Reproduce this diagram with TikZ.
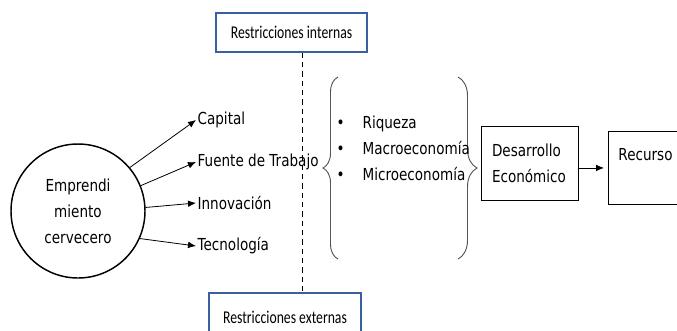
\documentclass[tikz,border=0pt]{standalone}
\usepackage{fontspec}
\setmainfont{DejaVu Sans}[FakeStretch=0.82]
\newfontfamily\restfont{Carlito}[FakeStretch=0.76]
\usetikzlibrary{arrows.meta,decorations.pathreplacing}
\definecolor{restblue}{HTML}{3B5FA3}
\definecolor{bracegray}{HTML}{555555}

\begin{document}
\begin{tikzpicture}[x=0.75pt,y=-0.75pt,
        every node/.style={font=\fontsize{12.4}{19.6}\selectfont},
        idea/.style={anchor=west,inner sep=1pt},
        rest/.style={draw=restblue,line width=1.1pt,font=\restfont\fontsize{13.5}{15}\selectfont},
        caja/.style={draw,line width=0.65pt,align=left},
        flecha/.style={-{Latex[length=6pt,width=5pt]},line width=0.6pt},
        llave/.style={decorate,draw=bracegray,line width=0.7pt}]
    \useasboundingbox (0,0) rectangle (677,330);
    \clip (0,0) rectangle (677,330);
    % emprendimiento y sus aportes
    \node[circle,draw,line width=1.1pt,minimum size=100.5pt,align=center] (emp) at (78,211)
        {Emprendi\\miento\\cervecero};
    \node[idea] (cap) at (196,120) {Capital};
    \node[idea] (fue) at (196,162) {Fuente de Trabajo};
    \node[idea] (inn) at (196,203) {Innovación};
    \node[idea] (tec) at (196,246) {Tecnología};
    \draw[flecha] (emp.40) -- (cap.west);
    \draw[flecha] (emp.22) -- (fue.west);
    \draw[flecha] (emp.3) -- (inn.west);
    \draw[flecha] (emp.-24) -- (tec.west);
    % restricciones
    \node[rest,minimum width=113.25pt,minimum height=29.25pt] (rin) at (291.5,32.5) {Restricciones internas};
    \node[rest,minimum width=114pt,minimum height=36pt] (rex) at (285,317) {Restricciones externas};
    \coordinate (sep) at (302,0);
    \draw[dash pattern=on 4pt off 3pt,line width=0.6pt] (rin.south -| sep) -- (rex.north -| sep);
    % efectos
    \draw[llave,decoration={brace,amplitude=11.25pt}] (338,259) -- (338,77);
    \draw[llave,decoration={brace,amplitude=14.25pt}] (458,77) -- (458,259);
    \node[anchor=west,inner sep=1pt,align=left] (efe) at (335,148.5)
        {•\hspace{13.5pt}Riqueza\\•\hspace{13.5pt}Macroeconomía\\•\hspace{13.5pt}Microeconomía};
    \node[caja,minimum width=72.75pt,minimum height=55.5pt,text width=56.25pt,inner xsep=8.25pt] (des) at (529.5,163)
        {Desarrollo\\Económico};
    \node[caja,anchor=north west,minimum width=82.5pt,minimum height=54.75pt,text width=67.5pt,inner xsep=7.5pt] (rec) at (608,131)
        {Recurso\\\mbox{}};
    \draw[flecha,shorten >=3pt] (rec.west -| des.east) -- (rec.west);
\end{tikzpicture}
\end{document}
